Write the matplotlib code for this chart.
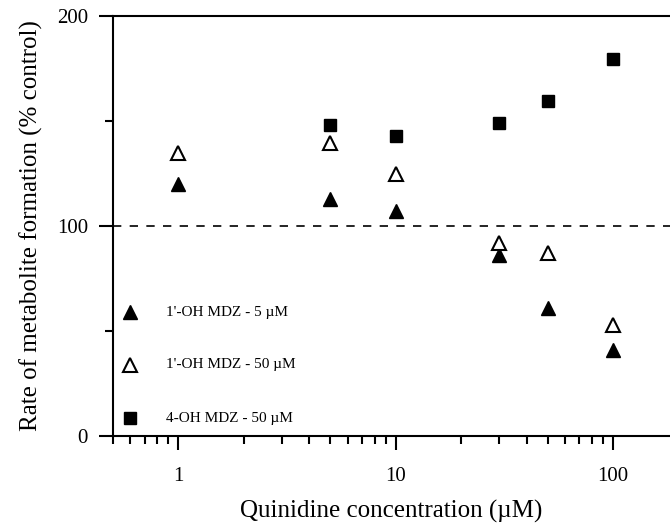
import numpy as np
import matplotlib
matplotlib.use("Agg")
import matplotlib.pyplot as plt
from matplotlib.ticker import LogLocator, FixedLocator, NullFormatter

plt.rcParams['font.family'] = ['Liberation Serif', 'DejaVu Serif']

# quinidine concentration (uM)
conc = [1, 5, 10, 30, 50, 100]
conc_4oh = [5, 10, 30, 50, 100]

# rate of metabolite formation (% control)
oh1_5uM = [120, 113, 107, 86, 61, 41]
oh1_50uM = [135, 139.5, 125, 92, 87, 53]
oh4_50uM = [148, 143, 149, 159.5, 179.5]

labels = ["1'-OH MDZ - 5 \u00b5M", "1'-OH MDZ - 50 \u00b5M", "4-OH MDZ - 50 \u00b5M"]

fig = plt.figure(figsize=(6.7, 5.23), dpi=100)
ax = fig.add_axes([0.1687, 0.1663, 0.8313, 0.8031])

ax.plot(conc, oh1_5uM, linestyle='none', marker='^', ms=10, color='black')
ax.plot(conc, oh1_50uM, linestyle='none', marker='^', ms=10,
        markerfacecolor='white', markeredgecolor='black', markeredgewidth=1.5)
ax.plot(conc_4oh, oh4_50uM, linestyle='none', marker='s', ms=9, color='black')

# control line
ax.axhline(100, color='black', linestyle=(0, (5, 5)), linewidth=1.2)

ax.set_xscale('log')
ax.set_xlim(0.5, 183)
ax.set_ylim(0, 200)

ax.set_xticks([1, 10, 100])
ax.set_xticklabels(['1', '10', '100'])
ax.xaxis.set_minor_locator(LogLocator(base=10, subs=np.arange(2, 10)))
ax.xaxis.set_minor_formatter(NullFormatter())
ax.set_yticks([0, 100, 200])
ax.yaxis.set_minor_locator(FixedLocator([50, 150]))

ax.tick_params(axis='both', which='major', direction='out', length=10, width=1.5,
               labelsize=15, pad=12)
ax.tick_params(axis='x', which='minor', direction='out', length=6, width=1.5)
ax.tick_params(axis='y', which='minor', direction='out', length=6, width=1.5)
ax.tick_params(axis='y', which='major', pad=8)

for s in ['left', 'bottom', 'top']:
    ax.spines[s].set_linewidth(1.5)
ax.spines['right'].set_visible(False)

ax.set_xlabel('Quinidine concentration (\u00b5M)', fontsize=18, labelpad=10)
ax.set_ylabel('Rate of metabolite formation (% control)', fontsize=18, labelpad=10)

# legend drawn as markers with text, as in the figure
leg_y = [59, 34, 8.5]
styles = [dict(marker='^', ms=10, color='black'),
          dict(marker='^', ms=10, markerfacecolor='white', markeredgecolor='black',
               markeredgewidth=1.5),
          dict(marker='s', ms=9, color='black')]
for yy, lab, st in zip(leg_y, labels, styles):
    ax.plot([0.6], [yy], linestyle='none', **st)
    ax.text(0.88, yy, lab, fontsize=11, va='center', ha='left')

fig.savefig('out.png', dpi=100)
